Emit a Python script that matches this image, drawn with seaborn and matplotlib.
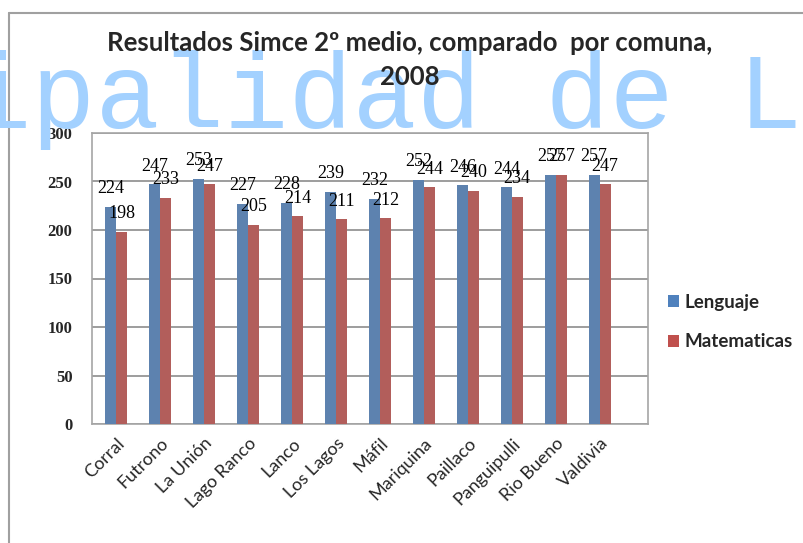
import pandas as pd
import seaborn as sns
import matplotlib.pyplot as plt
from matplotlib.patches import Patch
from matplotlib.lines import Line2D

# Datos
comunas = ['Corral', 'Futrono', 'La Unión', 'Lago Ranco', 'Lanco', 'Los Lagos',
           'Máfil', 'Mariquina', 'Paillaco', 'Panguipulli', 'Rio Bueno', 'Valdivia']
lenguaje = [224, 247, 253, 227, 228, 239, 232, 252, 246, 244, 257, 257]
matematicas = [198, 233, 247, 205, 214, 211, 212, 244, 240, 234, 257, 247]
series = ['Lenguaje', 'Matematicas']
colores = ['#4f81bd', '#c0504d']

df = pd.DataFrame({'Comuna': comunas * 2,
                   'Puntaje': lenguaje + matematicas,
                   'Prueba': ['Lenguaje'] * len(comunas) + ['Matematicas'] * len(comunas)})

sns.set_style('white')
plt.rcParams['font.family'] = ['Lato', 'DejaVu Sans']

W, H = 804, 543
fig = plt.figure(figsize=(W / 100, H / 100), dpi=100)
ax = fig.add_axes([92 / W, 1 - 424 / H, (648 - 92) / W, (424 - 133) / H])

sns.barplot(data=df, x='Comuna', y='Puntaje', hue='Prueba', palette=colores,
            width=0.5, ax=ax, legend=False, edgecolor='none', zorder=3)

for cont in ax.containers:
    ax.bar_label(cont, padding=7, fontsize=13, family='Liberation Serif', color='black', zorder=5)

ax.set_ylim(0, 300)
ax.set_xlim(-0.55, 12.1)
ax.set_yticks(range(0, 301, 50))
ax.yaxis.grid(True, color='#8c8c8c', linewidth=1.2, zorder=0)
for s in ax.spines.values():
    s.set_color('#a6a6a6')
    s.set_linewidth(1.2)
ax.set_xlabel('')
ax.set_ylabel('')
ax.tick_params(axis='y', labelsize=12, length=0, pad=14)
ax.tick_params(axis='x', length=0, pad=8)
for lbl in ax.get_yticklabels():
    lbl.set_family('Liberation Serif')
    lbl.set_fontweight('bold')
plt.setp(ax.get_xticklabels(), rotation=45, ha='right', rotation_mode='anchor', fontsize=13)

# leyenda
handles = [Patch(facecolor=c, edgecolor='none') for c in colores]
fig.legend(handles, series, loc='center left', bbox_to_anchor=(651 / W, 1 - 322 / H),
           frameon=False, handlelength=0.6, handleheight=0.6,
           handletextpad=0.3, labelspacing=1.2,
           prop={'family': 'Lato', 'weight': 'bold', 'size': 13.5})

# título (por encima de la marca de agua)
fig.text(410 / W, 1 - 31 / H, 'Resultados Simce 2º medio, comparado  por comuna,\n2008',
         ha='center', va='top', fontsize=18.5, fontweight='bold', linespacing=1.5, zorder=11)

# marco del gráfico
fig.add_artist(Line2D([9 / W, 9 / W], [0, 1 - 13 / H], color='#a0a0a0', lw=1.5))
fig.add_artist(Line2D([9 / W, 1], [1 - 13 / H, 1 - 13 / H], color='#a0a0a0', lw=1.5))

# marca de agua
fig.text(-33 / W, 1 - 128 / H, 'ipalidad de L', ha='left', va='baseline',
         family='Liberation Mono', fontsize=77, color='#a3d1ff', zorder=10)

fig.savefig('out.png', dpi=100, facecolor='white')
